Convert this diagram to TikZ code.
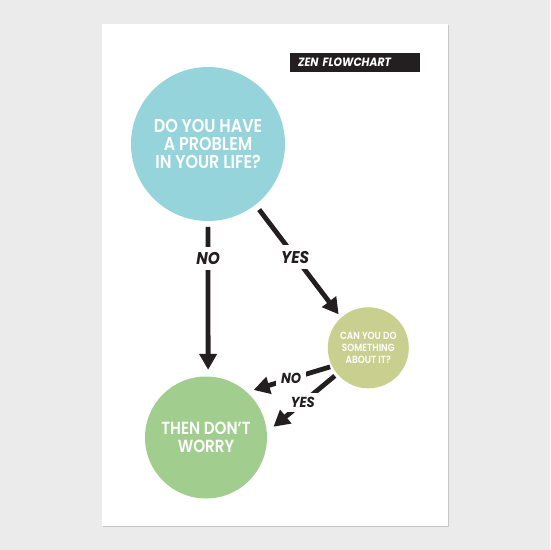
\documentclass[tikz,border=0pt]{standalone}
\usepackage{fontspec}
\usetikzlibrary{arrows.meta}
\newfontfamily\medfont{Poppins SemiBold}[FakeStretch=0.86]
\newfontfamily\labfont{Poppins}[FakeStretch=0.9]
\definecolor{ink}{HTML}{231F20}
\definecolor{qblue}{HTML}{96D4DB}
\definecolor{sgreen}{HTML}{C8CF8F}
\definecolor{wgreen}{HTML}{A1CE8E}
\definecolor{bggray}{HTML}{EBEBEB}
\begin{document}
\begin{tikzpicture}[x=1pt,y=-1pt,
  bubble/.style={circle, inner sep=0pt, align=center, text=white},
  conn/.style={line width=4.8pt, draw=ink, -{Triangle[width=17pt,length=16pt]}},
  biglab/.style={fill=white, inner xsep=2pt, inner ysep=5.6pt, text=ink,
    font=\labfont\bfseries\itshape\fontsize{17}{17}\selectfont},
  smalllab/.style={fill=white, inner xsep=5pt, inner ysep=4pt, text=ink,
    font=\labfont\bfseries\itshape\fontsize{14.5}{14.5}\selectfont}]
\useasboundingbox (0,0) rectangle (550,550);
\fill[bggray] (0,0) rectangle (550,550);
\fill[black!22] (102.5,25) rectangle (449,527);
\fill[white] (101.7,24) rectangle (448,526);
% title bar
\node[fill=ink, text=white, anchor=north west, minimum height=19pt, inner ysep=0pt,
  inner xsep=8.7pt, text width=112.6pt, align=left,
  font=\labfont\bfseries\itshape\fontsize{12}{12}\selectfont] (bar) at (289.3,52.7) {ZEN FLOWCHART};
% bubbles
\node[bubble, fill=qblue, minimum size=154pt, font=\medfont\fontsize{18.6}{17.7}\selectfont]
  (q) at (208,144) {DO YOU HAVE\\A PROBLEM\\IN YOUR LIFE?};
\node[bubble, fill=sgreen, minimum size=81pt, font=\medfont\fontsize{10.4}{11.7}\selectfont]
  (s) at (368.3,347.8) {CAN YOU DO\\SOMETHING\\ABOUT IT?};
\node[bubble, fill=wgreen, minimum size=122pt, font=\medfont\fontsize{17.6}{18.3}\selectfont]
  (w) at (206,437.5) {THEN DON’T\\WORRY};
% connectors
\draw[conn, shorten <=5.7pt, shorten >=6.5pt] (q.-90) -- node[biglab, pos=0.24] {NO} (w.88);
\draw[conn, shorten <=6pt, shorten >=4pt] (q.-52.7) -- node[biglab, pos=0.464] {YES} (s.132.5);
\draw[conn, shorten <=2pt, shorten >=7pt] (s.207.4) -- node[smalllab, pos=0.48] {NO} (w.48);
\draw[conn, shorten <=3pt, shorten >=8.5pt] (s.220) -- node[smalllab, pos=0.49] {YES} (w.5);
\end{tikzpicture}
\end{document}
